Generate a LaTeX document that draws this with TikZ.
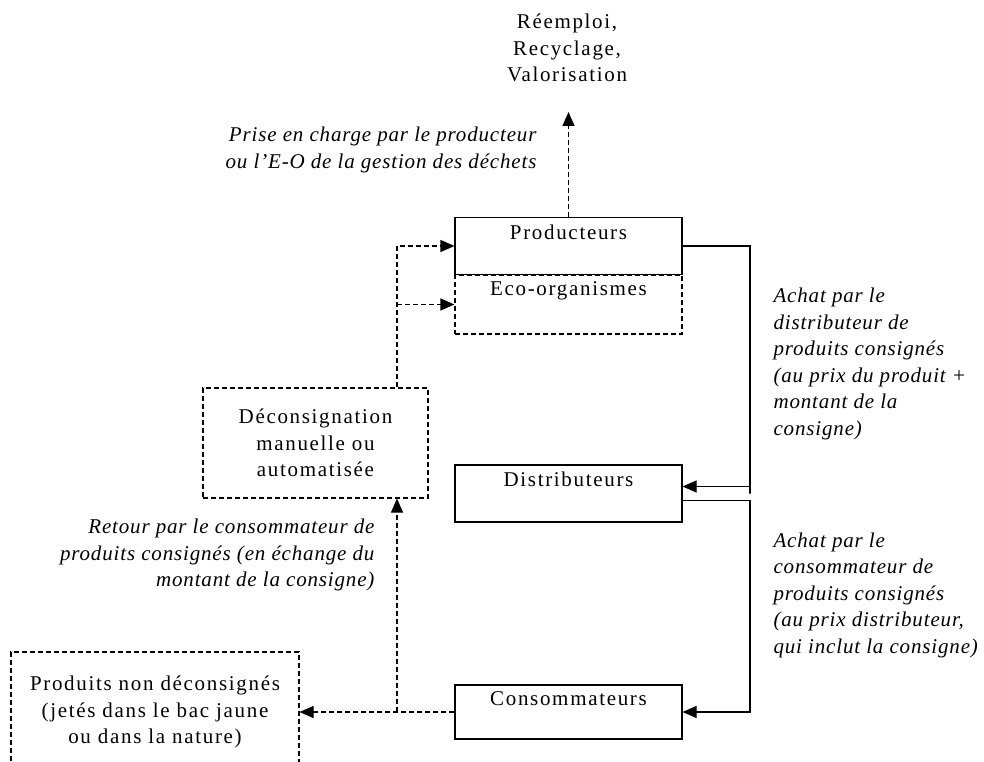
\documentclass[tikz,border=0pt]{standalone}
\usepackage{fontspec}
\setmainfont{Liberation Serif}[LetterSpace=8,ItalicFeatures={LetterSpace=4}]
\usetikzlibrary{arrows.meta,positioning}

\begin{document}
\begin{tikzpicture}[x=1pt,y=-1pt,line width=1.1pt,
            font=\fontsize{21}{26.5}\selectfont,
            box/.style={draw,minimum width=227pt,minimum height=57pt,inner sep=0pt},
            dashbox/.style={draw,dash pattern=on 5pt off 3pt,inner sep=0pt,align=center},
            box text/.style={below=7pt,inner sep=0pt},
            note/.style={font=\fontsize{21}{26.5}\selectfont\itshape,inner sep=0pt},
            flow/.style={-{Triangle[length=14pt,width=12pt]}},
            dflow/.style={flow,dash pattern=on 5pt off 3pt}]

        \useasboundingbox (0,0) rectangle (984,762);
        \clip (0,0) rectangle (984,762);

        % Define boxes
        \node[dashbox,minimum width=227pt,minimum height=59pt] (eco) at (568.5,304.5) {};
        \node[box] (prod) at (568.5,246) {};
        \node[box] (dist) at (568.5,493.5) {};
        \node[box,minimum height=54pt] (cons) at (568.5,712) {};
        \node[dashbox,minimum width=225pt,minimum height=110pt] (decons) at (315.5,443)
            {D\'econsignation\\manuelle ou\\automatis\'ee};
        \node[dashbox,minimum width=288pt,minimum height=120pt] (nondec) at (155,712)
            {Produits non d\'econsign\'es\\(jet\'es dans le bac jaune\\ou dans la nature)};

        % Texts in boxes
        \node[box text] (prodtxt) at (prod.north) {Producteurs};
        \node[box text] (ecotxt) at (eco.north) {Eco-organismes};
        \node[box text] (disttxt) at (dist.north) {Distributeurs};
        \node[box text] (constxt) at (cons.north) {Consommateurs};
        \node[align=center,inner sep=0pt] (reuse) at (567,48)
            {R\'eemploi,\\Recyclage,\\Valorisation};

        % Notes
        \node[note,align=right,anchor=east] (prise) at (537,150)
            {Prise en charge par le producteur\\ou l'E-O de la gestion des d\'echets};
        \node[note,align=right,anchor=east] (retour) at (375,555)
            {Retour par le consommateur de\\produits consign\'es (en \'echange du\\montant de la consigne)};
        \node[note,align=left,anchor=west] (achatdist) at (773,364)
            {Achat par le\\distributeur de\\produits consign\'es\\(au prix du produit +\\montant de la\\consigne)};
        \node[note,align=left,anchor=west] (achatcons) at (773,595)
            {Achat par le\\consommateur de\\produits consign\'es\\(au prix distributeur,\\qui inclut la consigne)};

        % Draw connectors
        \coordinate (split) at (397,712);
        \draw[dflow] (prod.north) -- (prod.north |- 0,112);
        \draw[flow] (prod.east) -| (750,493.5) |- ([yshift=7pt]dist.east);
        \draw[flow] ([yshift=-7pt]dist.east) -| (750,600) |- (cons.east);
        \draw[dflow] (cons.west) -- (nondec.east);
        \draw[dflow] (split) -- (split |- decons.south);
        \draw[dflow] (split |- decons.north) |- (prod.west);
        \draw[dflow] (split |- eco.west) -- (eco.west);

\end{tikzpicture}
\end{document}
